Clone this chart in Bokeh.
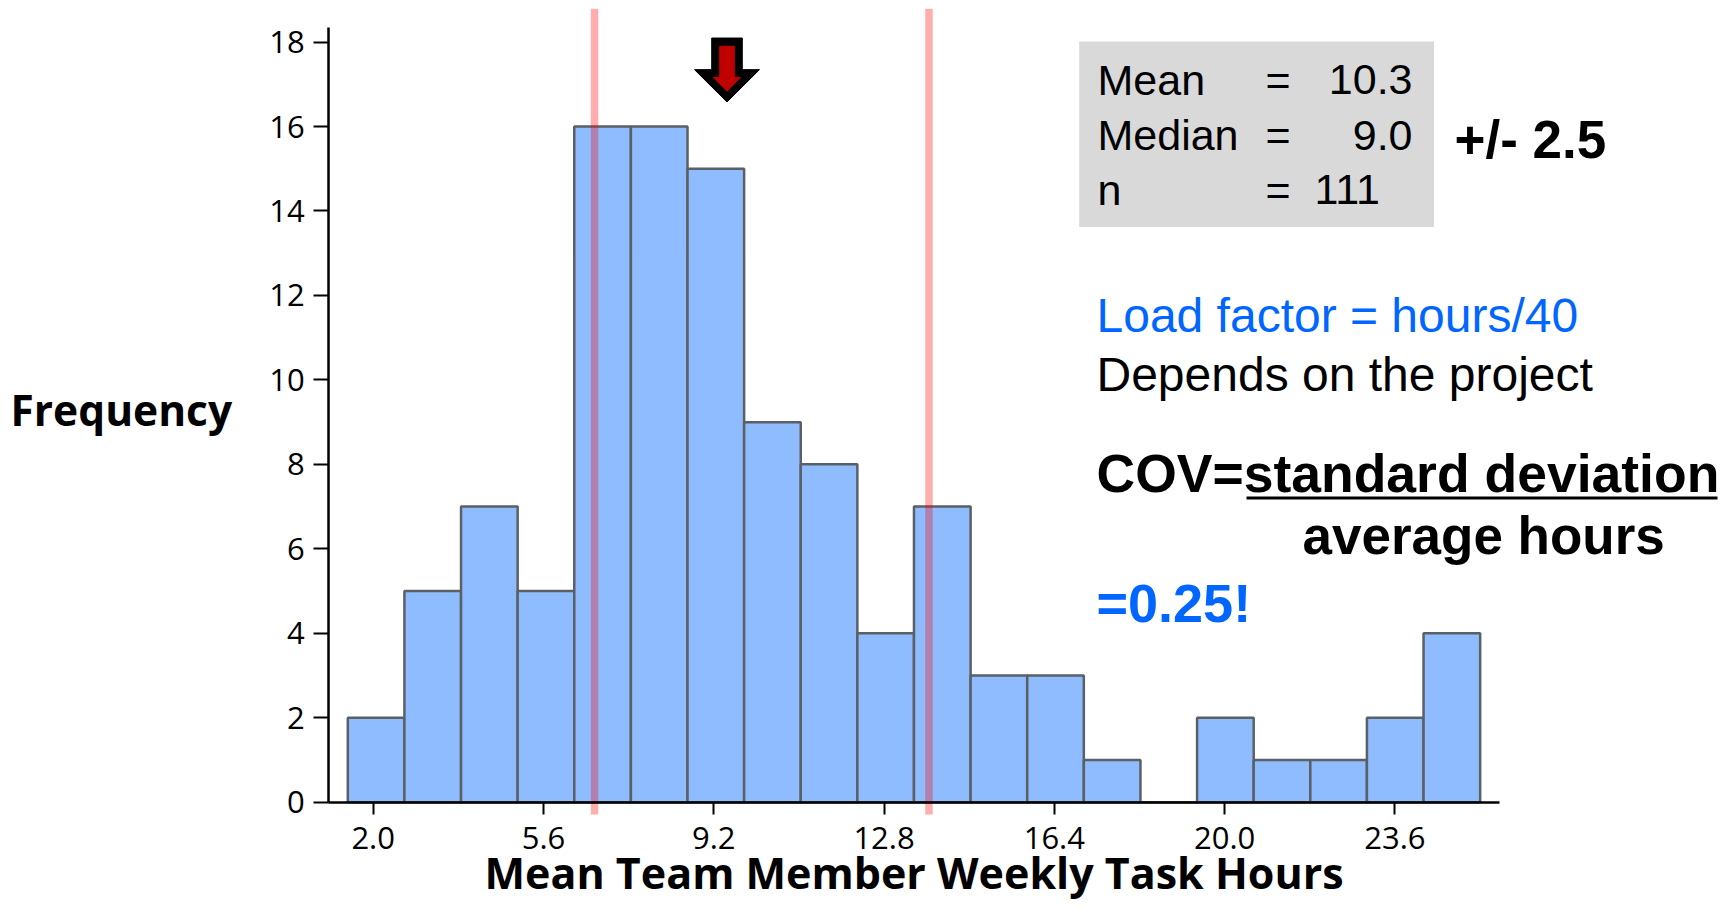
from bokeh.plotting import figure
from bokeh.models import Range1d, FixedTicker, Label, BoxAnnotation
from bokeh.embed import file_html
from bokeh.resources import INLINE

# ---------------- data ----------------
counts = [2, 5, 7, 5, 16, 16, 15, 9, 8, 4, 7, 3, 3, 1, 0, 2, 1, 1, 2, 4]
bin_start = 1.463
bin_width = 1.197
x_tick_values = [2.0, 5.6, 9.2, 12.8, 16.4, 20.0, 23.6]
x_tick_labels = ["2.0", "5.6", "9.2", "12.8", "16.4", "20.0", "23.6"]
y_tick_values = [0, 2, 4, 6, 8, 10, 12, 14, 16, 18]
ref_lines = [6.68, 13.75]
arrow_at = 9.48
arrow_tip = 16.58
stats_names = ["Mean", "Median", "n"]
stats_values = ["10.3", "9.0", "111"]
x_title = "Mean Team Member Weekly Task Hours"
y_title = "Frequency"

# ---------------- geometry (picture px <-> data) ----------------
W, H = 1725, 904
kx, ky = 47.3, 42.23
X2, Y0 = 372.7, 801.7   # px of x=2.0 and of y=0


def dx(px):
    return 2.0 + (px - X2) / kx


def dy(py):
    return (Y0 - py) / ky


p = figure(width=W, height=H, output_backend="svg", toolbar_location=None,
           x_range=Range1d(dx(0), dx(W)), y_range=Range1d(dy(H), dy(0)),
           min_border_left=0, min_border_right=0, min_border_top=0,
           min_border_bottom=0, background_fill_color="white",
           border_fill_color="white")
p.outline_line_color = None
p.grid.visible = False

lefts = [bin_start + i * bin_width for i in range(len(counts))]
rights = [l + bin_width for l in lefts]
p.quad(left=lefts, right=rights, bottom=0, top=counts,
       fill_color="#8fbcff", line_color="#5b6066", line_width=2.5)

p.segment(x0=ref_lines, x1=ref_lines, y0=[dy(814)] * len(ref_lines),
          y1=[dy(8.3)] * len(ref_lines), line_color="red", line_alpha=0.32,
          line_width=7.5)

# axes (fixed inside the frame)
y_axis_at = dx(328.3)
for ax in p.xaxis:
    ax.fixed_location = 0
    ax.bounds = (y_axis_at, 25.82)
    ax.ticker = FixedTicker(ticks=x_tick_values)
    ax.major_label_overrides = {v: s for v, s in zip(x_tick_values, x_tick_labels)}
    ax.major_tick_out = 12
    ax.major_tick_in = 0
    ax.major_label_standoff = 13
for ax in p.yaxis:
    ax.fixed_location = y_axis_at
    ax.bounds = (0, 18.34)
    ax.ticker = FixedTicker(ticks=y_tick_values)
    ax.major_tick_out = 15
    ax.major_tick_in = 0
    ax.major_label_standoff = 9
for ax in list(p.xaxis) + list(p.yaxis):
    ax.axis_label = None
    ax.minor_tick_out = 0
    ax.minor_tick_in = 0
    ax.axis_line_width = 2.5
    ax.axis_line_color = "black"
    ax.major_tick_line_width = 2
    ax.major_tick_line_color = "black"
    ax.major_label_text_font = "Open Sans"
    ax.major_label_text_font_size = "31px"
    ax.major_label_text_color = "black"

# arrow
outer = [(-15.3, 64), (15.3, 64), (15.3, 32.4), (32.5, 32.4), (0, 0),
         (-32.5, 32.4), (-15.3, 32.4)]
inner = [(-7.3, 55.7), (7.3, 55.7), (7.3, 24.7), (13.5, 24.7), (0, 10.7),
         (-13.5, 24.7), (-7.3, 24.7)]
p.patch([arrow_at + a / kx for a, b in outer], [arrow_tip + b / ky for a, b in outer],
        fill_color="black", line_color="black", line_width=1)
p.patch([arrow_at + a / kx for a, b in inner], [arrow_tip + b / ky for a, b in inner],
        fill_color="#c00000", line_color="#c00000", line_width=1)

# stats box
p.add_layout(BoxAnnotation(left=dx(1078.7), right=dx(1433.5), top=dy(40.9),
                           bottom=dy(226.6), fill_color="#d9d9d9", fill_alpha=1,
                           line_color=None, level="annotation"))

SHIFT = {"Liberation Sans": 0.34, "Open Sans": 0.39}


def lab(text, px, base, size, bold=False, color="black", align="left",
        font="Liberation Sans"):
    # base = wanted baseline in picture px (Bokeh draws it a bit lower)
    p.add_layout(Label(x=dx(px), y=dy(base - SHIFT[font] * size), text=text,
                       text_font=font, text_font_size=f"{size}px",
                       text_font_style="bold" if bold else "normal",
                       text_color=color, text_align=align,
                       text_baseline="alphabetic"))


rows = [94, 149.5, 204]
for name, val, yy in zip(stats_names, stats_values, rows):
    lab(name, 1097, yy, 43)
    lab("=", 1265, yy, 43)
    if val == "111":
        lab(val, 1314, yy, 43)
    else:
        lab(val, 1412, yy, 43, align="right")

lab("+/- 2.5", 1454, 157, 53, bold=True)
lab("Load factor = hours/40", 1096, 331.7, 48, color="#0066ff")
lab("Depends on the project", 1096, 390, 48)
lab("COV=standard deviation", 1096, 490.7, 53.5, bold=True)
lab("average hours", 1302, 552.6, 53, bold=True)
lab("=0.25!", 1096, 621, 54, bold=True, color="#0066ff")
p.segment(x0=[dx(1246)], y0=[dy(497.5)], x1=[dx(1717)], y1=[dy(497.5)],
          line_color="black", line_width=3)

lab(y_title, 10, 425.7, 42.5, bold=True, font="Open Sans")
lab(x_title, 484, 889, 43, bold=True, font="Open Sans")

open("out.html", "w").write(file_html(p, INLINE))
